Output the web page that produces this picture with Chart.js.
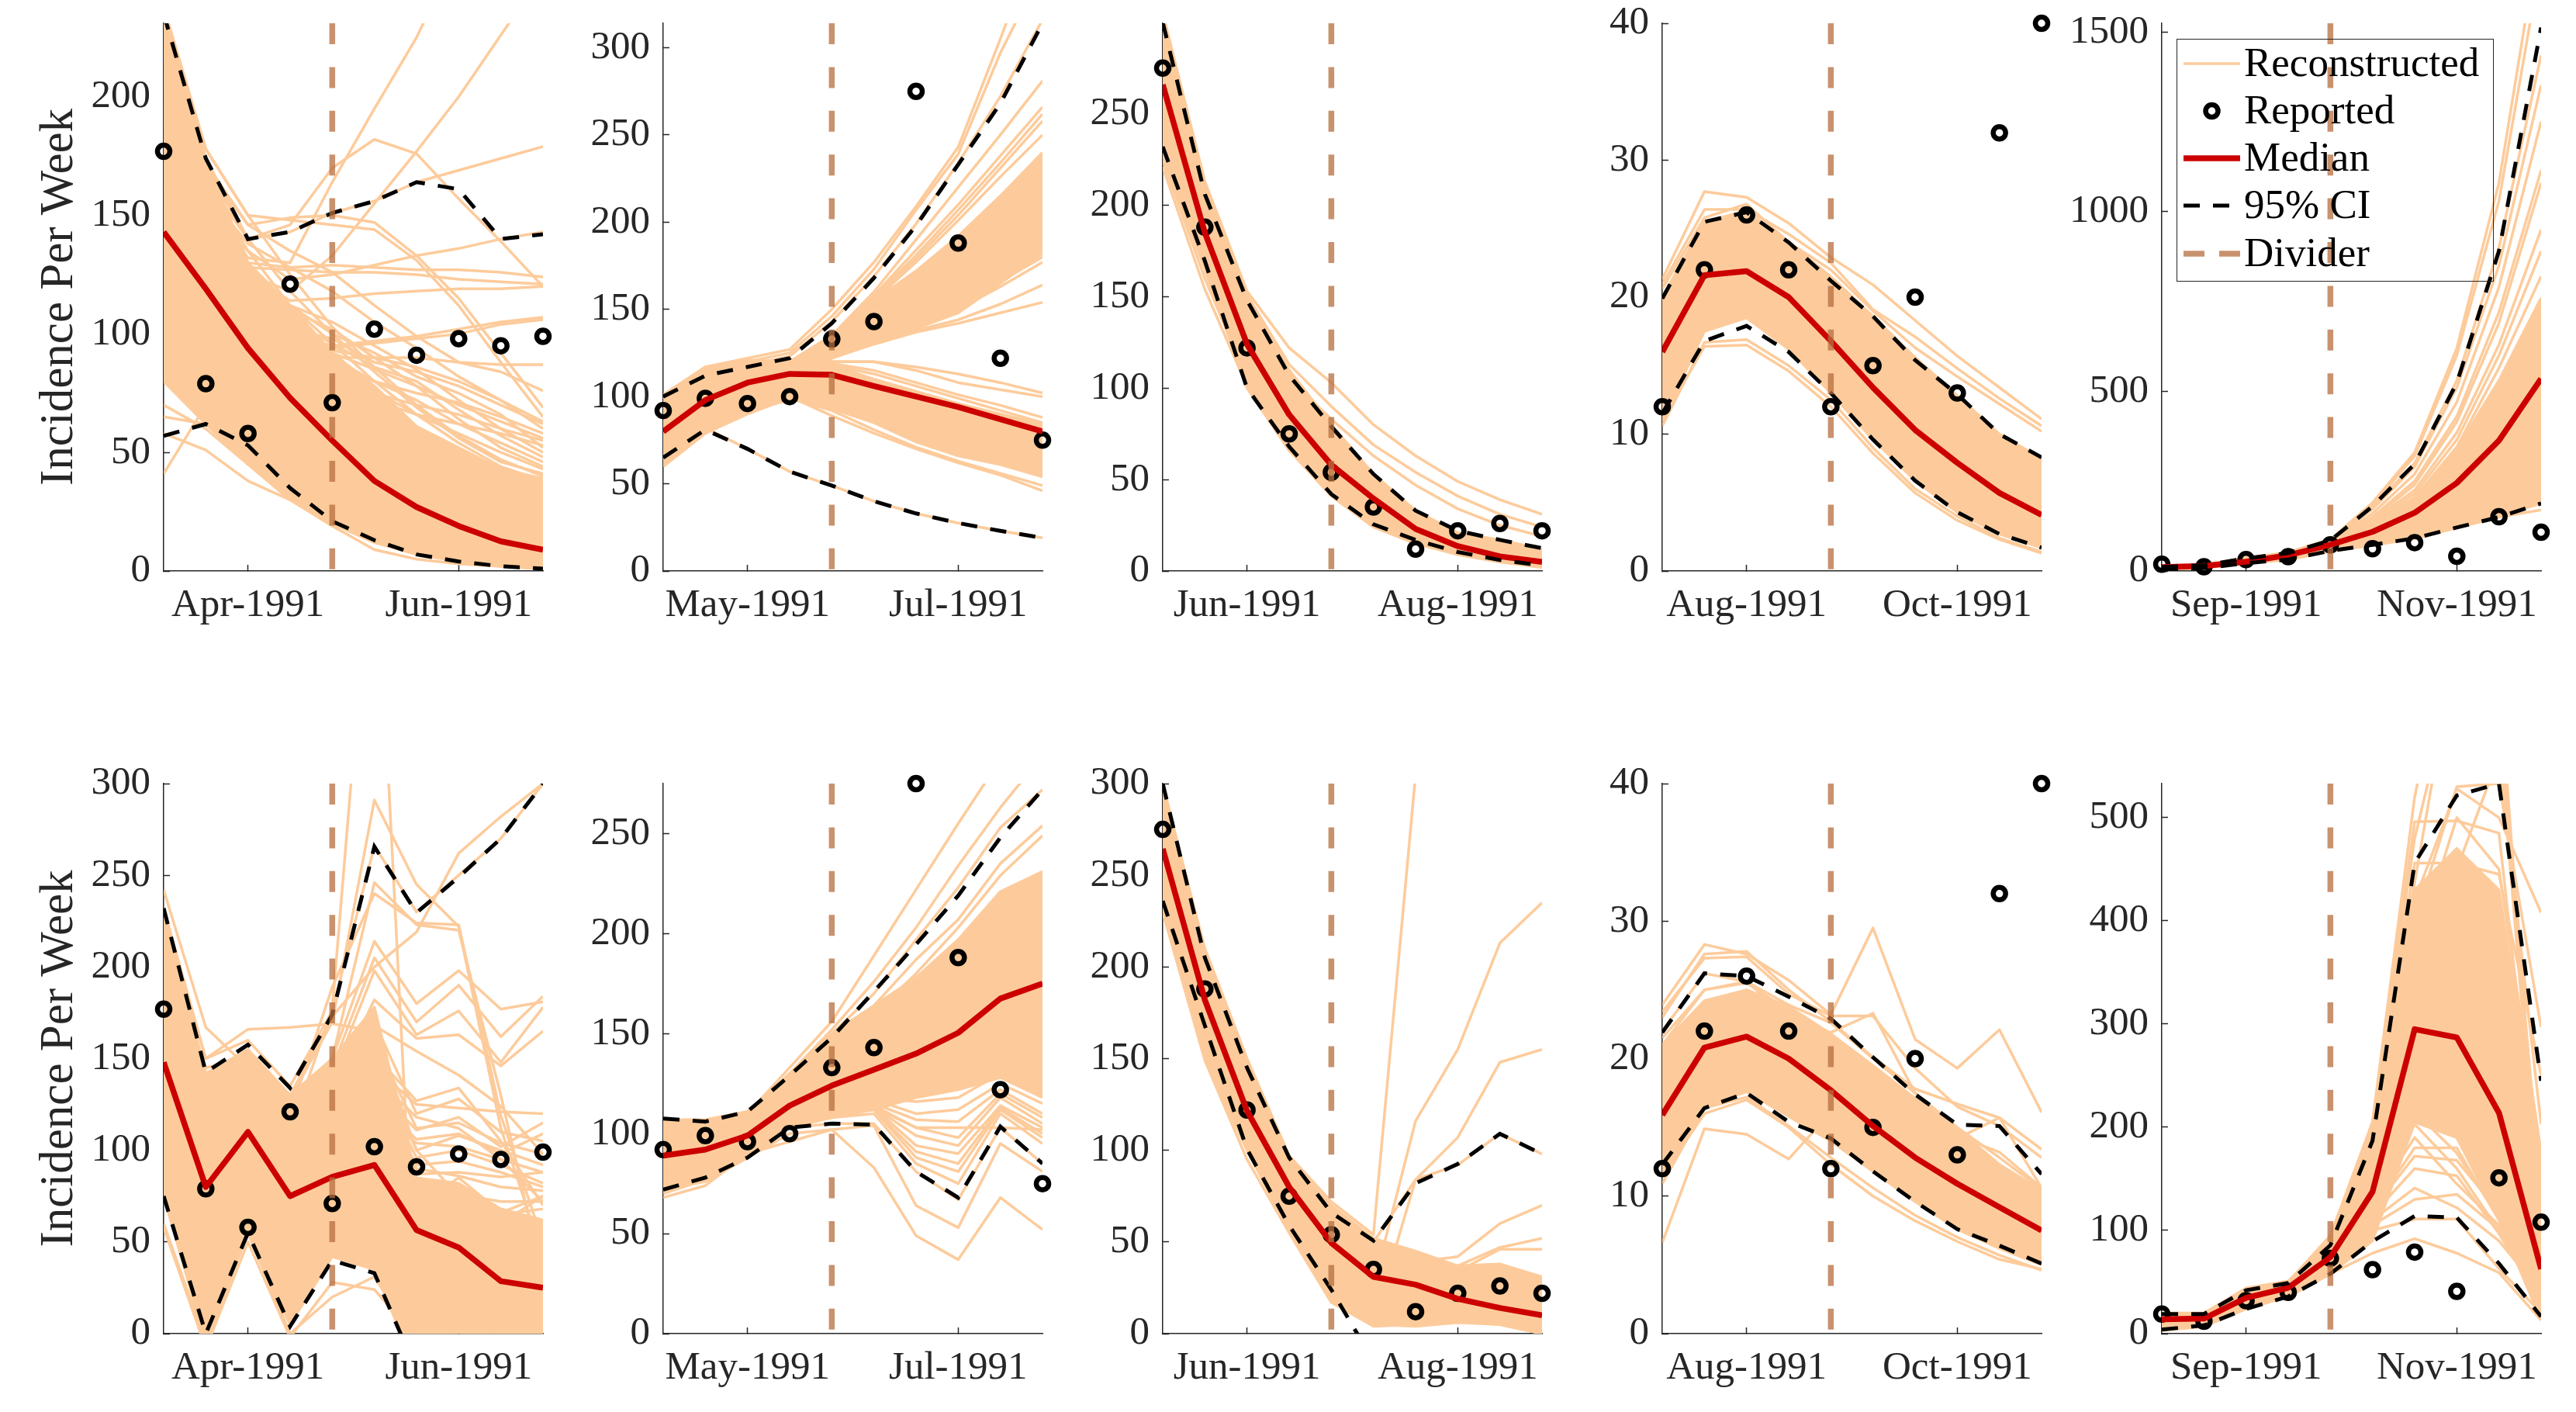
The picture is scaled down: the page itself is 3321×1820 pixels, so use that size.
<!DOCTYPE html>
<html>
<head>
<meta charset="utf-8">
<title>Incidence per week</title>
<script src="https://cdn.jsdelivr.net/npm/chart.js@4"></script>
<style>
    html, body { margin: 0; padding: 0; background: #fff; width: 3321px; height: 1820px; overflow: hidden; }
    canvas { position: absolute; }
    #legend { position: absolute; left: 2806px; top: 50px; width: 407px; height: 311px; border: 1.5px solid #262626; font-family: "Liberation Serif", serif; font-size: 53px; color: #000; }
    #legend .row { position: absolute; left: 8px; height: 61px; display: flex; align-items: center; }
    #legend svg { width: 73px; height: 40px; margin-right: 5px; }
    #legend span { position: relative; top: -2px; }
</style>
</head>
<body>
<div id="legend"></div>
<script>
const weeks = [0, 1, 2, 3, 4, 5, 6, 7, 8, 9];
const monthTickWeeks = [2, 7];
const dividerWeek = 4;
const yLabel = 'Incidence Per Week';

// Reported values, the same in both rows
const reportedA = [177, 79, 58, 121, 71, 102, 91, 98, 95, 99];
const reportedB = [92, 99, 96, 100, 133, 143, 275, 188, 122, 75];
const reportedC = [275, 188, 122, 75, 54, 35, 12, 22, 26, 22];
const reportedD = [12, 22, 26, 22, 12, 15, 20, 13, 32, 40];
const reportedE = [19, 12, 32, 40, 73, 62, 79, 41, 151, 108];

const monthsA = ['Apr-1991', 'Jun-1991'];
const monthsB = ['May-1991', 'Jul-1991'];
const monthsC = ['Jun-1991', 'Aug-1991'];
const monthsD = ['Aug-1991', 'Oct-1991'];
const monthsE = ['Sep-1991', 'Nov-1991'];

// Panel 1
const yTicks1 = [0, 50, 100, 150, 200];
const yMax1 = 231;
const median1 = [143, 119, 94, 73, 55, 38, 27, 19, 12.5, 9];
const upper1 = [235, 174, 140, 143, 151, 156, 164, 161, 140, 142];
const lower1 = [57, 62, 53, 35, 21, 13, 7, 4, 2, 1];
const bandTop1 = [235, 174, 130, 112, 92, 78, 61, 52, 43, 39];
const bandLow1 = [80, 62, 45, 30, 20, 12, 7, 4, 2, 1];
const runs1 = [
    [190, 160, 132, 130, 164, 195, 225, 262, 300, 340],
    [175, 150, 125, 118, 133, 155, 177, 200, 226, 252],
    [205, 165, 140, 146, 170, 182, 176, 157, 139, 120],
    [231, 174, 140, 143, 151, 156, 164, 169, 174, 179],
    [232, 172, 146, 149, 150, 147, 133, 115, 92, 69],
    [236, 178, 150, 148, 146, 144, 131, 112, 88, 65],
    [200, 150, 135, 123, 125, 129, 133, 136, 140, 143],
    [180, 150, 130, 128, 129, 128, 127, 127, 126, 124],
    [170, 145, 128, 127, 126, 126, 125, 123, 122, 121],
    [165, 140, 125, 114, 115, 117, 118, 119, 119, 120],
    [150, 125, 110, 100, 95, 97, 99, 102, 105, 107],
    [140, 120, 105, 96, 94, 96, 98, 100, 104, 106],
    [130, 115, 103, 92, 90, 90, 90, 88, 87, 87],
    [215, 170, 146, 135, 126, 112, 99, 88, 84, 76],
    [205, 160, 138, 128, 118, 105, 94, 82, 72, 63],
    [160, 125, 112, 96, 85, 80, 75, 71, 65, 58],
    [150, 120, 105, 90, 80, 75, 70, 66, 60, 55],
    [145, 115, 98, 88, 78, 72, 66, 62, 58, 53],
    [238, 178, 150, 125, 103, 86, 70, 57, 47, 40],
    [225, 170, 140, 118, 100, 84, 69, 56, 46, 41],
    [215, 165, 135, 112, 96, 80, 66, 54, 44, 38],
    [200, 150, 125, 110, 102, 90, 78, 64, 52, 44],
    [190, 140, 120, 112, 105, 95, 85, 72, 60, 50],
    [170, 130, 110, 100, 92, 85, 78, 70, 63, 56],
    [185, 145, 118, 105, 96, 86, 80, 68, 57, 48],
    [160, 125, 108, 98, 90, 80, 72, 62, 54, 46],
    [155, 120, 105, 95, 88, 76, 66, 58, 50, 43],
    [195, 155, 128, 112, 100, 92, 82, 75, 66, 52],
    [178, 140, 115, 102, 98, 88, 84, 78, 70, 62],
    [168, 132, 110, 100, 93, 90, 86, 80, 72, 60],
    [41, 70, 55, 42, 30, 20, 13, 8, 5, 3],
    [58, 51, 38, 30, 19, 9, 5, 3, 2, 1],
    [70, 60, 45, 32, 25, 15, 9, 5, 3, 2],
    [80, 72, 63, 50, 38, 26, 17, 11, 6, 3],
    [65, 62, 60, 48, 35, 24, 15, 9, 5, 3]
];

// Panel 2
const yTicks2 = [0, 50, 100, 150, 200, 250, 300];
const yMax2 = 314;
const median2 = [80, 98, 108, 113, 112.5, 106, 100, 94, 87, 80];
const upper2 = [100, 112, 117, 122, 142, 168, 198, 233, 268, 314];
const lower2 = [65, 81, 70, 57, 49, 40, 33, 27.5, 23, 19];
const bandTop2a = [101, 117, 121, 120, 135, 155, 172, 192, 215, 240];
const bandLow2a = [60, 79, 92, 98, 122, 131, 139, 148, 165, 182];
const bandTop2b = [90, 100, 108, 112, 118, 110, 103, 96, 90, 84];
const bandLow2b = [70, 85, 95, 100, 93, 85, 74, 66, 61, 54];
const runs2 = [
    [100, 117, 122, 127, 150, 177, 209, 243, 305, 370],
    [99, 114, 120, 125, 146, 173, 207, 239, 297, 345],
    [98, 110, 118, 123, 143, 169, 199, 234, 272, 316],
    [95, 108, 115, 120, 135, 160, 190, 220, 250, 281],
    [94, 107, 115, 119, 134, 158, 184, 210, 238, 266],
    [93, 106, 114, 118, 133, 157, 181, 207, 234, 262],
    [93, 106, 114, 118, 132, 156, 179, 204, 231, 258],
    [92, 105, 113, 118, 131, 155, 177, 201, 226, 250],
    [90, 103, 112, 115, 120, 120, 117, 113, 108, 102],
    [88, 100, 110, 114, 120, 120, 115, 108, 104, 100],
    [85, 98, 108, 113, 119, 115, 108, 101, 95, 88],
    [82, 96, 106, 110, 118, 113, 106, 99, 92, 85],
    [62, 80, 92, 100, 89, 79, 70, 62, 55, 46],
    [60, 79, 90, 99, 92, 81, 71, 63, 56, 49],
    [65, 82, 70, 57, 49, 40, 33, 27.5, 23, 19],
    [80, 95, 105, 110, 122, 130, 137, 142, 148, 154],
    [82, 97, 107, 112, 122, 131, 138, 144, 153, 164],
    [84, 98, 108, 113, 122, 132, 140, 150, 163, 177],
    [85, 99, 108, 113, 122, 133, 142, 153, 166, 180]
];

// Panel 3
const yTicks3 = [0, 50, 100, 150, 200, 250];
const yMax3 = 299.5;
const median3 = [266, 185, 124, 85.5, 58, 39.6, 23, 13.6, 8, 5];
const upper3 = [300, 206, 148, 107, 79, 53, 33, 22, 17, 12.5];
const lower3 = [232, 169.5, 100, 68, 42, 25.5, 17, 10.4, 6, 3];
const bandTop3 = [305, 210, 150, 110, 80, 53, 33, 21, 17, 12];
const bandLow3 = [228, 165, 100, 66, 42, 25, 16, 9, 5, 2];
const runs3 = [
    [305, 213, 153, 122, 103, 80, 63, 49, 39, 31],
    [300, 210, 151, 113, 90, 69, 54, 41, 31, 24],
    [298, 208, 148, 105, 83, 63, 47, 34, 25, 19],
    [221, 154, 101, 66, 41, 24, 15, 9, 5, 2],
    [225, 160, 105, 70, 45, 28, 17, 11, 6, 3]
];

// Panel 4
const yTicks4 = [0, 10, 20, 30, 40];
const yMax4 = 40;
const median4 = [16, 21.6, 21.9, 20, 16.8, 13.4, 10.3, 7.9, 5.7, 4.1];
const upper4 = [19.9, 25.5, 26.2, 24, 21.2, 18.6, 15.4, 12.9, 10, 8.3];
const lower4 = [11.5, 16.8, 17.9, 16, 13, 9.6, 6.6, 4.3, 2.7, 1.7];
const bandTop4 = [20, 25.5, 26.3, 24, 21.5, 18.6, 15.6, 12.8, 10, 8.2];
const bandLow4 = [11, 17.5, 18.5, 16.2, 13, 9.6, 6.6, 4.3, 2.7, 1.7];
const runs4 = [
    [21.3, 27.7, 27.3, 25.4, 22.9, 20.9, 18.3, 15.7, 13.4, 11.1],
    [20.9, 26.4, 26.4, 24.6, 22.5, 19.1, 17.1, 14.8, 12.6, 10.6],
    [20.6, 25.8, 26.8, 24, 22, 19, 16.3, 14.2, 12.2, 10.2],
    [10.6, 16.7, 16.9, 15, 12.5, 9, 6, 4, 2.4, 1.4],
    [11, 16.4, 16.5, 14.6, 12, 8.6, 5.7, 3.7, 2.3, 1.3]
];

// Panel 5
const yTicks5 = [0, 500, 1000, 1500];
const yMax5 = 1524;
const median5 = [11, 14, 26, 44, 73, 109, 162, 245, 363, 535];
const upper5 = [11, 16, 35, 50, 85, 180, 298, 523, 890, 1512];
const lower5 = [5, 8, 22, 32, 56, 73, 91, 121, 150, 188];
const bandTop5 = [11, 16, 35, 50, 85, 128, 200, 340, 530, 760];
const bandLow5 = [5, 8, 23, 33, 57, 74, 92, 122, 152, 188];
const runs5 = [
    [12, 18, 36, 52, 88, 190, 330, 620, 1080, 1800],
    [12, 17, 36, 50, 86, 185, 320, 600, 1030, 1700],
    [11, 16, 34, 50, 85, 178, 300, 530, 900, 1435],
    [11, 16, 34, 48, 82, 172, 290, 510, 850, 1352],
    [11, 16, 33, 48, 80, 160, 270, 470, 790, 1251],
    [10, 15, 32, 47, 78, 150, 250, 430, 720, 1115],
    [10, 15, 32, 46, 77, 145, 240, 415, 690, 1080],
    [10, 15, 31, 46, 76, 140, 225, 385, 630, 950],
    [10, 14, 31, 45, 75, 135, 215, 365, 600, 890],
    [10, 14, 30, 45, 74, 130, 205, 345, 565, 820],
    [5, 8, 22, 31, 55, 72, 90, 120, 150, 170]
];

// Panel 6
const yTicks6 = [0, 50, 100, 150, 200, 250, 300];
const yMax6 = 300;
const median6 = [148, 80, 110, 75, 85.5, 92, 56.5, 47, 28.6, 25];
const upper6 = [232, 142.5, 157.6, 134, 174, 265.6, 229.6, 249, 270, 300];
const lower6 = [75, 0, 55, 4, 40, 33, -20, -10, -5, -3];
const bandTop6 = [230, 142, 155, 130, 150, 178, 85, 82, 68, 62];
const bandLow6 = [75, -5, 55, 5, 42, 35, -20, -5, 0, 0];
const runs6 = [
    [200, 145, 150, 130, 173, 200, 219, 262, 282, 300],
    [232, 150, 160, 135, 176, 266, 230, 250, 270, 300],
    [190, 130, 140, 120, 189, 240, 224, 223, 119, 50],
    [180, 125, 130, 110, 177, 454, 1, -5, -5, -5],
    [205, 142, 145, 128, 170, 291, 245, 222, 112, 42],
    [215, 140, 150, 125, 150, 246, 223, 220, 130, 30],
    [195, 135, 130, 115, 150, 214, 180, 198, 177, 181],
    [190, 132, 135, 118, 145, 205, 170, 190, 162, 184],
    [185, 130, 130, 112, 140, 198, 163, 176, 148, 178],
    [175, 125, 128, 110, 135, 182, 161, 163, 146, 165],
    [170, 120, 125, 108, 130, 168, 154, 141, 124, 98],
    [160, 115, 120, 105, 125, 152, 127, 134, 105, 70],
    [155, 112, 115, 100, 120, 145, 125, 123, 121, 120],
    [150, 110, 115, 98, 115, 135, 111, 118, 102, 115],
    [145, 105, 110, 95, 110, 128, 106, 109, 98, 109],
    [140, 100, 105, 92, 105, 120, 104, 102, 95, 88],
    [135, 95, 100, 90, 100, 112, 87, 88, 85.5, 88],
    [130, 90, 95, 85, 95, 100, 78, 76, 72, 72],
    [125, 85, 90, 80, 90, 95, 70, 85, 66, 75],
    [120, 80, 85, 78, 88, 92, 82, 80, 65, 68],
    [165, 118, 122, 104, 118, 170, 120, 128, 110, 105],
    [158, 112, 118, 100, 112, 160, 112, 115, 104, 98],
    [150, 108, 112, 96, 108, 150, 100, 108, 100, 92],
    [142, 102, 108, 94, 104, 142, 96, 100, 92, 82],
    [138, 98, 104, 90, 102, 132, 92, 94, 88, 80],
    [128, 92, 96, 86, 98, 125, 90, 86, 80, 78],
    [242, 167, 145, 120, 125, 140, 118, 112, 95, 72],
    [225, 150, 166, 167, 169, 165, 100, 75, 60, 75],
    [60, -5, 55, 0, 20, 31, -5, -5, 0, 0],
    [58, -8, 50, -2, 28, 24, -2, 0, 0, 0]
];

// Panel 7
const yTicks7 = [0, 50, 100, 150, 200, 250];
const yMax7 = 275;
const median7 = [89, 92, 99, 114, 124, 132, 140, 150.4, 167.5, 175];
const upper7 = [107.5, 106, 111, 129, 148, 171, 194.6, 219, 248, 272];
const lower7 = [72, 78, 88, 103, 105, 104.5, 81, 68, 103.5, 85];
const bandTop7 = [107, 107, 111, 130, 150, 164, 178, 197, 221, 231];
const bandLow7 = [70, 77, 88, 103, 108, 112, 118, 122, 128, 118];
const runs7 = [
    [100, 104, 110, 133, 156, 189, 222, 255, 287, 320],
    [100, 102, 110, 130, 152, 176, 203, 234, 263, 289],
    [104, 105, 111, 130, 150, 170, 197, 223, 253, 272],
    [95, 97, 105, 125, 145, 164, 187, 207, 235, 254],
    [92, 95, 103, 122, 142, 160, 180, 203, 229, 249],
    [72, 76, 88, 100, 102, 104, 64, 53, 95, 81],
    [68, 74, 90, 96, 102, 83, 49, 37, 68, 52],
    [75, 78, 90, 103, 105, 105, 81, 67, 103, 85],
    [85, 88, 95, 105, 108, 110, 85, 75, 110, 95],
    [87, 90, 97, 106, 110, 112, 88, 81, 112, 98],
    [88, 90, 97, 106, 110, 112, 91, 85, 113, 100],
    [85, 88, 96, 106, 110, 113, 94, 90, 114, 103],
    [83, 87, 96, 106, 110, 113, 99, 94, 118, 105],
    [90, 92, 98, 107, 112, 114, 103, 98, 120, 108],
    [88, 90, 97, 105, 112, 113, 103, 103, 103, 102],
    [86, 90, 97, 107, 113, 115, 107, 106, 122, 110],
    [90, 92, 99, 108, 115, 117, 110, 112, 125, 115],
    [88, 91, 98, 108, 115, 118, 116, 118, 130, 120]
];

// Panel 8
const yTicks8 = [0, 50, 100, 150, 200, 250, 300];
const yMax8 = 300;
const median8 = [264.5, 182, 121.5, 80, 49.5, 31, 26.7, 19, 14, 10];
const upper8 = [300, 205, 145, 96, 66, 50.7, 82, 92.5, 109, 98];
const lower8 = [236, 168, 100.6, 59, 24, -15, -30, -30, -30, -30];
const bandTop8 = [300, 208, 148, 95, 70, 52, 45, 37, 38, 31];
const bandLow8 = [230, 150, 100, 56, 18, 5, 4, 6, 5, 0];
const runs8 = [
    [298, 210, 150, 97, 72, 54, 305, 420, 500, 560],
    [296, 208, 148, 95, 68, 26, 116, 155, 213, 235],
    [285, 200, 143, 92, 66, 6, 84, 107, 148, 155],
    [280, 195, 140, 90, 65, 50, 84, 92, 109, 98],
    [275, 190, 138, 88, 60, 44, 39, 42, 60, 70],
    [270, 185, 135, 85, 58, 42, 37, 37, 47, 52],
    [265, 182, 130, 82, 55, 40, 34, 34, 46, 46],
    [230, 149, 95, 55, 17, 4, 5, 7, 5, 0]
];

// Panel 9
const yTicks9 = [0, 10, 20, 30, 40];
const yMax9 = 40;
const median9 = [15.9, 20.8, 21.6, 20, 17.7, 15.1, 12.8, 10.9, 9.2, 7.5];
const upper9 = [21.9, 26.2, 26, 24.5, 22.9, 20.1, 17.4, 15.2, 15.1, 11.6];
const lower9 = [12.3, 16.4, 17.5, 15.4, 14.2, 11.8, 9.6, 7.6, 6.4, 5.1];
const bandTop9 = [21, 24.2, 25, 23.8, 21.8, 19.5, 17.1, 14.9, 12.3, 10.4];
const bandLow9 = [11.5, 16.5, 17.6, 15.8, 14, 11.8, 9.6, 7.6, 6.2, 5];
const runs9 = [
    [23.9, 28.3, 27.6, 25.7, 23.2, 29.5, 21.4, 19.3, 22.1, 16.1],
    [23, 27.6, 27.8, 25, 22.7, 20.1, 17.8, 16.7, 15.7, 13.4],
    [23.4, 27.3, 27.4, 24.7, 23.1, 23.1, 19.3, 16.5, 15.1, 12.8],
    [21.5, 25, 25.6, 23, 21.9, 23.3, 17.5, 14.4, 13.2, 10.6],
    [6.6, 14.9, 14.5, 12.7, 16.1, 13.8, 11.5, 9.5, 7.7, 6.1],
    [10.9, 16.4, 17.2, 15.1, 12.8, 10.6, 8.6, 7, 5.7, 4.6],
    [11.5, 16, 17, 15, 12.3, 10, 8.2, 6.7, 5.4, 4.7],
    [21, 25, 25.5, 23.5, 21, 18.5, 16, 14.2, 15.7, 10.6],
    [22, 26.2, 25.6, 23.9, 22.6, 20, 17.5, 15, 12.8, 10.5]
];

// Panel 10
const yTicks10 = [0, 100, 200, 300, 400, 500];
const yMax10 = 533;
const median10 = [14, 14.6, 34.6, 44.5, 74, 137.5, 295, 287, 214, 62.6];
const upper10 = [19, 19, 42, 49, 85.6, 187, 456, 521.5, 533, 245];
const lower10 = [4, 8, 24, 36, 58, 89.5, 114, 112.5, 68, 16.5];
const bandTop10 = [20, 20, 44, 51, 90, 195, 430, 470, 430, 170];
const bandLow10 = [3, 7, 24, 36, 58, 90, 205, 190, 110, 13];
const runs10 = [
    [18, 18, 40, 48, 88, 205, 496, 497, 485, 120],
    [18, 18, 40, 48, 85, 195, 456, 456, 445, 250],
    [17, 17, 38, 46, 85, 203, 437, 672, 600, 130],
    [18, 18, 42, 49, 90, 195, 480, 650, 580, 100],
    [19, 19, 44, 50, 95, 205, 520, 720, 640, 90],
    [16, 16, 36, 45, 80, 180, 420, 528, 500, 408],
    [16, 16, 38, 46, 82, 185, 400, 530, 533, 297],
    [15, 15, 34, 44, 78, 170, 390, 450, 560, 203],
    [15, 15, 35, 44, 76, 165, 370, 500, 450, 176],
    [14, 14, 33, 43, 70, 150, 340, 470, 420, 120],
    [14, 15, 32, 42, 68, 140, 320, 440, 400, 110],
    [13, 14, 30, 40, 65, 130, 300, 400, 360, 95],
    [10, 10, 25, 36, 58, 78, 92, 78, 59, 13],
    [10, 10, 26, 37, 60, 100, 111, 111, 63, 20],
    [11, 11, 27, 38, 62, 105, 130, 135, 101, 49],
    [12, 12, 28, 38, 64, 110, 141, 122, 90, 40],
    [12, 12, 29, 39, 65, 115, 160, 153, 97, 30],
    [12, 13, 30, 40, 66, 120, 180, 180, 110, 45],
    [13, 13, 30, 40, 68, 125, 203, 160, 100, 35],
    [13, 13, 31, 41, 70, 130, 225, 190, 120, 60],
    [14, 14, 32, 42, 72, 140, 250, 230, 130, 70],
    [12, 12, 28, 38, 65, 120, 172, 168, 118, 38],
    [12, 13, 30, 40, 68, 128, 190, 145, 105, 32],
    [13, 14, 31, 41, 70, 135, 215, 175, 112, 25]
];

const panels = [
    { months: monthsA, reported: reportedA, yTicks: yTicks1, yMax: yMax1, median: median1, upper: upper1, lower: lower1, bands: [[bandTop1, bandLow1]], runs: runs1 },
    { months: monthsB, reported: reportedB, yTicks: yTicks2, yMax: yMax2, median: median2, upper: upper2, lower: lower2, bands: [[bandTop2a, bandLow2a], [bandTop2b, bandLow2b]], runs: runs2 },
    { months: monthsC, reported: reportedC, yTicks: yTicks3, yMax: yMax3, median: median3, upper: upper3, lower: lower3, bands: [[bandTop3, bandLow3]], runs: runs3 },
    { months: monthsD, reported: reportedD, yTicks: yTicks4, yMax: yMax4, median: median4, upper: upper4, lower: lower4, bands: [[bandTop4, bandLow4]], runs: runs4 },
    { months: monthsE, reported: reportedE, yTicks: yTicks5, yMax: yMax5, median: median5, upper: upper5, lower: lower5, bands: [[bandTop5, bandLow5]], runs: runs5 },
    { months: monthsA, reported: reportedA, yTicks: yTicks6, yMax: yMax6, median: median6, upper: upper6, lower: lower6, bands: [[bandTop6, bandLow6]], runs: runs6 },
    { months: monthsB, reported: reportedB, yTicks: yTicks7, yMax: yMax7, median: median7, upper: upper7, lower: lower7, bands: [[bandTop7, bandLow7]], runs: runs7 },
    { months: monthsC, reported: reportedC, yTicks: yTicks8, yMax: yMax8, median: median8, upper: upper8, lower: lower8, bands: [[bandTop8, bandLow8]], runs: runs8 },
    { months: monthsD, reported: reportedD, yTicks: yTicks9, yMax: yMax9, median: median9, upper: upper9, lower: lower9, bands: [[bandTop9, bandLow9]], runs: runs9 },
    { months: monthsE, reported: reportedE, yTicks: yTicks10, yMax: yMax10, median: median10, upper: upper10, lower: lower10, bands: [[bandTop10, bandLow10]], runs: runs10 }
];

// Styles
const ORANGE = '#fdcb9b';
const RED = '#cc0000';
const DIVIDER = 'rgba(182, 110, 62, 0.75)';
const INK = '#262626';
const SERIF = '"Liberation Serif", serif';

// Layout, in page pixels
const plotWidth = 489;
const colStep = 644;
const firstLeft = 211;
const rowTops = [30, 1010];
const rowHeights = [706, 709];
const marginLeft = 205;
const marginRight = 40;
const marginTop = 60;
const marginBottom = 100;

function toPoints(values) {
    return values.map((y, i) => ({ x: weeks[i], y: y }));
}

function runLine(values, extra) {
    return Object.assign({
        data: toPoints(values),
        borderColor: ORANGE,
        backgroundColor: ORANGE,
        borderWidth: 3.5,
        borderJoinStyle: 'round',
        pointRadius: 0,
        tension: 0,
        clip: 0,
        order: 6
    }, extra);
}

function buildDatasets(panel) {
    const datasets = [];

    // Dense part of the ensemble, each band is filled between two runs
    panel.bands.forEach(band => {
        const next = datasets.length + 1;
        datasets.push(runLine(band[0], { fill: next, order: 7 }));
        datasets.push(runLine(band[1], { order: 7 }));
    });
    panel.runs.forEach(run => datasets.push(runLine(run)));

    datasets.push({
        label: 'Reported',
        data: toPoints(panel.reported),
        showLine: false,
        pointRadius: 8,
        pointBorderWidth: 6.5,
        pointBorderColor: '#000',
        pointBackgroundColor: 'transparent',
        clip: false,
        order: 5
    });
    datasets.push({
        label: 'Median',
        data: toPoints(panel.median),
        borderColor: RED,
        borderWidth: 7.5,
        borderJoinStyle: 'round',
        pointRadius: 0,
        tension: 0,
        clip: 0,
        order: 4
    });
    [panel.upper, panel.lower].forEach(values => {
        datasets.push({
            label: '95% CI',
            data: toPoints(values),
            borderColor: '#000',
            borderWidth: 5,
            borderDash: [21, 17],
            pointRadius: 0,
            tension: 0,
            clip: 0,
            order: 3
        });
    });
    datasets.push({
        label: 'Divider',
        data: [{ x: dividerWeek, y: panel.yMax }, { x: dividerWeek, y: 0 }],
        borderColor: DIVIDER,
        borderWidth: 7.5,
        borderDash: [27, 29.4],
        pointRadius: 0,
        clip: 0,
        order: 2
    });
    return datasets;
}

function drawPanel(panel, index) {
    const col = index % 5;
    const row = Math.floor(index / 5);
    const showLabel = col === 0;

    const canvas = document.createElement('canvas');
    const cssWidth = marginLeft + plotWidth + marginRight;
    const cssHeight = marginTop + rowHeights[row] + marginBottom;
    canvas.width = cssWidth;
    canvas.height = cssHeight;
    canvas.style.left = (firstLeft + col * colStep - marginLeft) + 'px';
    canvas.style.top = (rowTops[row] - marginTop) + 'px';
    canvas.style.width = cssWidth + 'px';
    canvas.style.height = cssHeight + 'px';
    document.body.insertBefore(canvas, document.getElementById('legend'));

    new Chart(canvas.getContext('2d'), {
        type: 'line',
        data: { datasets: buildDatasets(panel) },
        options: {
            responsive: false,
            animation: false,
            devicePixelRatio: 1,
            layout: { padding: { top: marginTop, right: marginRight, left: 0, bottom: 0 } },
            plugins: { legend: { display: false }, tooltip: { enabled: false } },
            scales: {
                x: {
                    type: 'linear',
                    min: weeks[0],
                    max: weeks[weeks.length - 1],
                    afterBuildTicks: scale => { scale.ticks = monthTickWeeks.map(v => ({ value: v })); },
                    afterFit: scale => { scale.height = marginBottom; },
                    border: { color: INK, width: 1.5 },
                    grid: { drawOnChartArea: false, tickLength: -8, tickColor: INK, tickWidth: 1.5 },
                    ticks: {
                        autoSkip: false,
                        maxRotation: 0,
                        padding: 27,
                        color: INK,
                        font: { family: SERIF, size: 51, lineHeight: 1 },
                        callback: v => panel.months[monthTickWeeks.indexOf(v)]
                    }
                },
                y: {
                    type: 'linear',
                    min: 0,
                    max: panel.yMax,
                    afterBuildTicks: scale => { scale.ticks = panel.yTicks.map(v => ({ value: v })); },
                    afterFit: scale => { scale.width = marginLeft; },
                    border: { color: INK, width: 1.5 },
                    grid: { drawOnChartArea: false, tickLength: -8, tickColor: INK, tickWidth: 1.5 },
                    ticks: {
                        padding: 25,
                        color: INK,
                        font: { family: SERIF, size: 51, lineHeight: 1 },
                        callback: v => String(v)
                    },
                    title: {
                        display: showLabel,
                        text: yLabel,
                        color: INK,
                        font: { family: SERIF, size: 61, lineHeight: 1 },
                        padding: { top: 40, bottom: 0 }
                    }
                }
            }
        }
    });
}

panels.forEach(drawPanel);

// Legend sits over the fifth panel and has no fill of its own
const legendItems = [
    { name: 'Reconstructed', mark: `<line x1="0" y1="20" x2="73" y2="20" stroke="${ORANGE}" stroke-width="3.5"/>` },
    { name: 'Reported', mark: `<circle cx="36.5" cy="20" r="8" fill="none" stroke="#000" stroke-width="6.5"/>` },
    { name: 'Median', mark: `<line x1="0" y1="20" x2="73" y2="20" stroke="${RED}" stroke-width="7.5"/>` },
    { name: '95% CI', mark: `<line x1="0" y1="20" x2="73" y2="20" stroke="#000" stroke-width="5" stroke-dasharray="21 17"/>` },
    { name: 'Divider', mark: `<line x1="0" y1="20" x2="73" y2="20" stroke="${DIVIDER}" stroke-width="7.5" stroke-dasharray="27 19"/>` }
];
const legend = document.getElementById('legend');
legendItems.forEach((item, i) => {
    const rowDiv = document.createElement('div');
    rowDiv.className = 'row';
    rowDiv.style.top = (0 + i * 61.3) + 'px';
    rowDiv.innerHTML = `<svg viewBox="0 0 73 40">${item.mark}</svg><span>${item.name}</span>`;
    legend.appendChild(rowDiv);
});
</script>
</body>
</html>
